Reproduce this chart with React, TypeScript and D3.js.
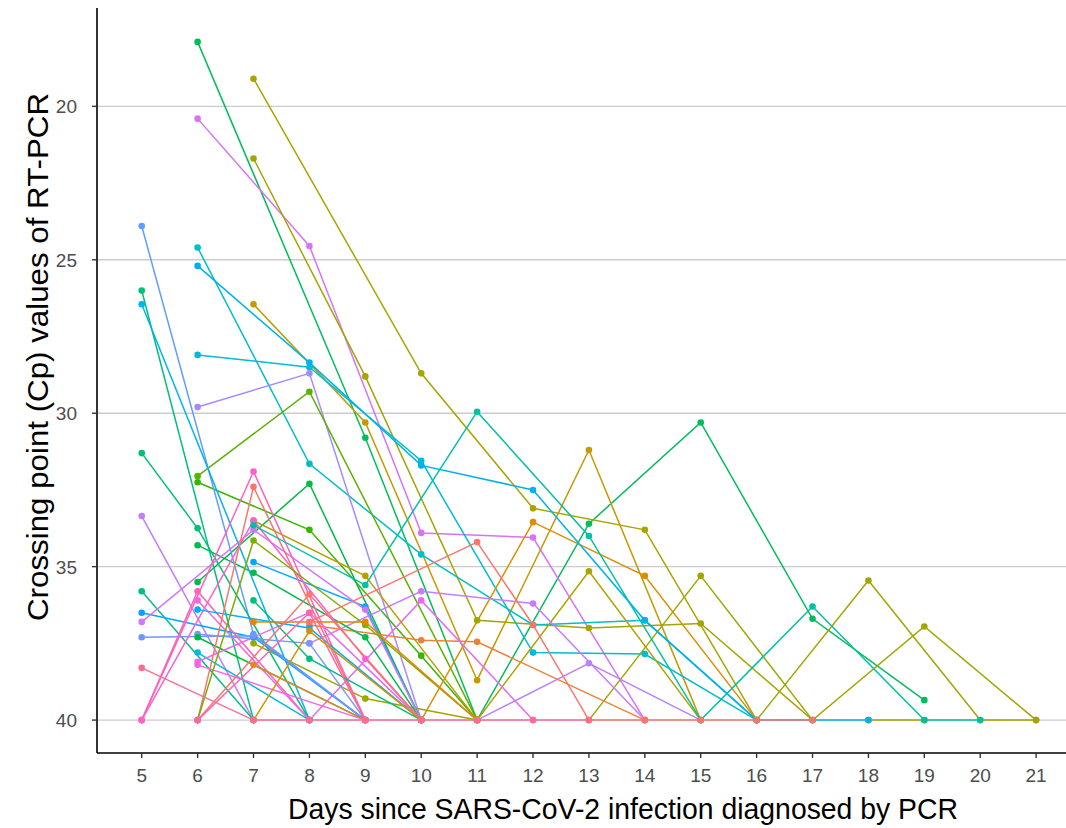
import React, { useEffect, useRef } from 'react';
import * as d3 from 'd3';

type Pt = [number, number];

// one array per patient: [day, Cp]
const p01: Pt[] = [[6, 17.9], [9, 30.8], [11, 40], [13, 33.6], [15, 30.3], [17, 36.7], [19, 39.35]];
const p02: Pt[] = [[7, 19.1], [10, 28.7], [12, 33.1], [14, 33.8], [16, 40]];
const p03: Pt[] = [[6, 20.4], [8, 24.55], [10, 33.9], [12, 34.05], [14, 40]];
const p04: Pt[] = [[7, 21.7], [9, 28.8], [11, 36.75], [13, 37.0], [15, 36.85], [17, 40], [19, 36.95], [21, 40]];
const p05: Pt[] = [[7, 26.45], [9, 30.3], [11, 38.7], [13, 31.2], [15, 40]];
const p06: Pt[] = [[6, 24.6], [8, 31.65], [10, 34.6], [12, 36.9], [14, 36.75], [16, 40]];
const p07: Pt[] = [[6, 25.2], [8, 28.35], [10, 31.7], [12, 32.5], [14, 36.75], [16, 40], [17, 40], [18, 40]];
const p08: Pt[] = [[6, 28.1], [8, 28.5], [10, 31.55], [12, 37.8], [14, 37.85], [16, 40]];
const p09: Pt[] = [[7, 33.65], [9, 35.6], [11, 29.95], [13, 34.0], [15, 40], [17, 36.3], [19, 40], [20, 40]];
const p10: Pt[] = [[6, 29.8], [8, 28.7], [10, 40]];
const p11: Pt[] = [[6, 32.05], [8, 29.3], [11, 40]];
const p12: Pt[] = [[6, 32.25], [8, 33.8], [10, 37.9], [11, 40]];
const p13: Pt[] = [[6, 35.5], [8, 32.3], [10, 40]];
const p14: Pt[] = [[10, 40], [12, 33.55], [14, 35.3], [16, 40]];
const p15: Pt[] = [[16, 40], [18, 35.45], [20, 40], [21, 40]];
const p16: Pt[] = [[11, 40], [13, 35.15], [15, 40]];
const p17: Pt[] = [[13, 40], [15, 35.3], [17, 40]];
const p18: Pt[] = [[11, 40], [13, 38.15], [15, 40]];
const p19: Pt[] = [[8, 36.8], [11, 34.2], [12, 36.9], [13, 40], [14, 40], [15, 40], [16, 40], [17, 40]];
const p20: Pt[] = [[8, 36.9], [10, 37.4], [11, 37.45], [14, 40]];
const p21: Pt[] = [[8, 37.5], [10, 35.8], [12, 36.2], [14, 40]];
const p22: Pt[] = [[8, 40], [10, 36.1], [12, 40]];
const p23: Pt[] = [[7, 37.5], [9, 39.3], [11, 40]];
const p24: Pt[] = [[7, 33.5], [9, 35.3], [11, 40]];
const p25: Pt[] = [[7, 34.85], [9, 36.3], [10, 40]];
const p26: Pt[] = [[6, 34.3], [7, 35.2], [9, 37.3], [10, 40]];
const p27: Pt[] = [[5, 23.9], [7, 37.2], [9, 40]];
const p28: Pt[] = [[5, 26.0], [7, 40]];
const p29: Pt[] = [[5, 26.45], [8, 40]];
const p30: Pt[] = [[5, 31.3], [6, 33.75], [8, 40]];
const p31: Pt[] = [[5, 33.35], [7, 40]];
const p32: Pt[] = [[5, 35.8], [7, 40]];
const p33: Pt[] = [[5, 36.5], [7, 37.3], [9, 40]];
const p34: Pt[] = [[5, 36.8], [7, 33.8], [9, 36.4], [10, 40]];
const p35: Pt[] = [[5, 37.3], [7, 37.25], [9, 40]];
const p36: Pt[] = [[5, 40], [7, 31.9], [9, 40]];
const p37: Pt[] = [[5, 40], [6, 35.8], [8, 40]];
const p38: Pt[] = [[5, 40], [7, 33.5], [9, 38.0], [10, 40]];
const p39: Pt[] = [[6, 36.1], [8, 40]];
const p40: Pt[] = [[6, 36.4], [8, 37.0], [10, 40]];
const p41: Pt[] = [[6, 37.2], [8, 37.5], [9, 40]];
const p42: Pt[] = [[6, 37.3], [9, 40]];
const p43: Pt[] = [[6, 37.8], [8, 40]];
const p44: Pt[] = [[6, 38.1], [8, 36.5], [10, 40]];
const p45: Pt[] = [[6, 38.2], [9, 40]];
const p46: Pt[] = [[6, 40], [7, 32.4], [9, 40]];
const p47: Pt[] = [[6, 40], [7, 34.15], [9, 36.9], [11, 40]];
const p48: Pt[] = [[7, 36.1], [8, 38.0], [10, 40]];
const p49: Pt[] = [[7, 36.8], [9, 36.8], [11, 40]];
const p50: Pt[] = [[7, 38.2], [9, 40]];
const p51: Pt[] = [[6, 40], [8, 35.9], [10, 40]];
const p52: Pt[] = [[6, 40], [8, 36.5], [9, 40]];
const p53: Pt[] = [[7, 40], [8, 37.1], [10, 40]];
const p54: Pt[] = [[5, 38.3], [7, 40], [8, 40], [9, 40], [10, 40], [11, 40], [12, 40], [13, 40]];
const p55: Pt[] = [[18, 40], [19, 40]];

// drawing order (later on top)
const patients: Pt[][] = [
    p01, p02, p03, p04, p05, p06, p08, p10, p11, p12, p13, p14, p15, p16, p17, p18, p55,
    p20, p21, p22, p23, p24, p25, p26, p27, p28, p29, p30, p31, p32, p33, p34, p35, p36, p37,
    p38, p39, p40, p41, p42, p43, p44, p45, p46, p47, p48, p49, p50, p51, p52, p53, p09, p07, p19, p54,
];

const colors: string[] = [
    '#00BD5C', '#A9A400', '#D774F5', '#A3A500', '#C49A00', '#00BFC4', '#00BDD0',
    '#A58AFF', '#5BB300', '#39B600', '#00BA42', '#DE8C00', '#A3A500', '#AEA200', '#9DA700', '#B983FF', '#A3A500',
    '#EC8239', '#C77CFF', '#E76BF3', '#9AA800', '#B79F00', '#00A9FF', '#00BB4E', '#619CFF', '#00BF7D',
    '#00B4EF', '#00BF76', '#C27DFF', '#00BF86', '#00A5FF', '#CF78FF', '#6F98FF', '#FF61C3', '#FF63B6',
    '#FD61D1', '#F564E3', '#00ADFA', '#7A96FF', '#00BA38', '#00BCD8', '#E76BF3', '#EE67EC', '#F8766D',
    '#7CAE00', '#00BF7D', '#E58700', '#E88526', '#F8766D', '#FF64B0', '#CD9600', '#00C0A3', '#00B2EC',
    '#F8766D', '#FF6C91',
];

const dayTicks = [5, 6, 7, 8, 9, 10, 11, 12, 13, 14, 15, 16, 17, 18, 19, 20, 21];
const cpTicks = [20, 25, 30, 35, 40];

const W = 1066, H = 828;

export default function App() {
    const ref = useRef<SVGSVGElement>(null);

    useEffect(() => {
        const svg = d3.select(ref.current);
        svg.selectAll('*').remove();

        const left = 97, bottom = 753;
        const x = d3.scaleLinear().domain([4.2, 21.8]).range([left, left + 17.6 * 55.9]);
        const y = d3.scaleLinear().domain([16.795, 41.105]).range([8, 754]);

        // grid
        svg.append('g')
            .selectAll('line')
            .data(cpTicks)
            .enter()
            .append('line')
            .attr('x1', left).attr('x2', W)
            .attr('y1', d => y(d)).attr('y2', d => y(d))
            .attr('stroke', '#cccccc')
            .attr('stroke-width', 1.4);

        const line = d3.line<Pt>().x(d => x(d[0])).y(d => y(d[1]));

        // lines first, then points (like geom_line + geom_point)
        svg.append('g')
            .selectAll('path')
            .data(patients)
            .enter()
            .append('path')
            .attr('d', d => line(d))
            .attr('fill', 'none')
            .attr('stroke', (d, i) => colors[i])
            .attr('stroke-width', 1.5);

        const pts = svg.append('g');
        patients.forEach((p, i) => {
            pts.selectAll('.pt' + i)
                .data(p)
                .enter()
                .append('circle')
                .attr('cx', d => x(d[0]))
                .attr('cy', d => y(d[1]))
                .attr('r', 3.3)
                .attr('fill', colors[i]);
        });

        // axes
        svg.append('line')
            .attr('x1', left).attr('x2', left).attr('y1', 8).attr('y2', bottom)
            .attr('stroke', '#000').attr('stroke-width', 1.6);
        svg.append('line')
            .attr('x1', left).attr('x2', W).attr('y1', bottom).attr('y2', bottom)
            .attr('stroke', '#000').attr('stroke-width', 1.6);

        const yt = svg.append('g').selectAll('g').data(cpTicks).enter().append('g');
        yt.append('line')
            .attr('x1', left - 5).attr('x2', left)
            .attr('y1', d => y(d)).attr('y2', d => y(d))
            .attr('stroke', '#333').attr('stroke-width', 1.4);
        yt.append('text')
            .attr('x', left - 20).attr('y', d => y(d) + 7)
            .attr('text-anchor', 'end')
            .attr('font-family', 'Liberation Sans, Arial, sans-serif')
            .attr('font-size', 19)
            .attr('fill', '#4d4d4d')
            .text(d => d);

        const xt = svg.append('g').selectAll('g').data(dayTicks).enter().append('g');
        xt.append('line')
            .attr('x1', d => x(d)).attr('x2', d => x(d))
            .attr('y1', bottom).attr('y2', bottom + 5)
            .attr('stroke', '#333').attr('stroke-width', 1.4);
        xt.append('text')
            .attr('x', d => x(d)).attr('y', 782)
            .attr('text-anchor', 'middle')
            .attr('font-family', 'Liberation Sans, Arial, sans-serif')
            .attr('font-size', 19)
            .attr('fill', '#4d4d4d')
            .text(d => d);

        svg.append('text')
            .attr('x', 288).attr('y', 819)
            .attr('font-family', 'Liberation Sans, Arial, sans-serif')
            .attr('font-size', 30)
            .attr('textLength', 670)
            .attr('lengthAdjust', 'spacingAndGlyphs')
            .attr('fill', '#000')
            .text('Days since SARS-CoV-2 infection diagnosed by PCR');

        svg.append('text')
            .attr('transform', 'translate(48, 621) rotate(-90)')
            .attr('font-family', 'Liberation Sans, Arial, sans-serif')
            .attr('font-size', 30)
            .attr('textLength', 528)
            .attr('lengthAdjust', 'spacingAndGlyphs')
            .attr('fill', '#000')
            .text('Crossing point (Cp) values of RT-PCR');
    }, []);

    return (
        <svg ref={ref} width={W} height={H}
             style={{ position: 'absolute', left: 0, top: 0, background: '#fff' }} />
    );
}
